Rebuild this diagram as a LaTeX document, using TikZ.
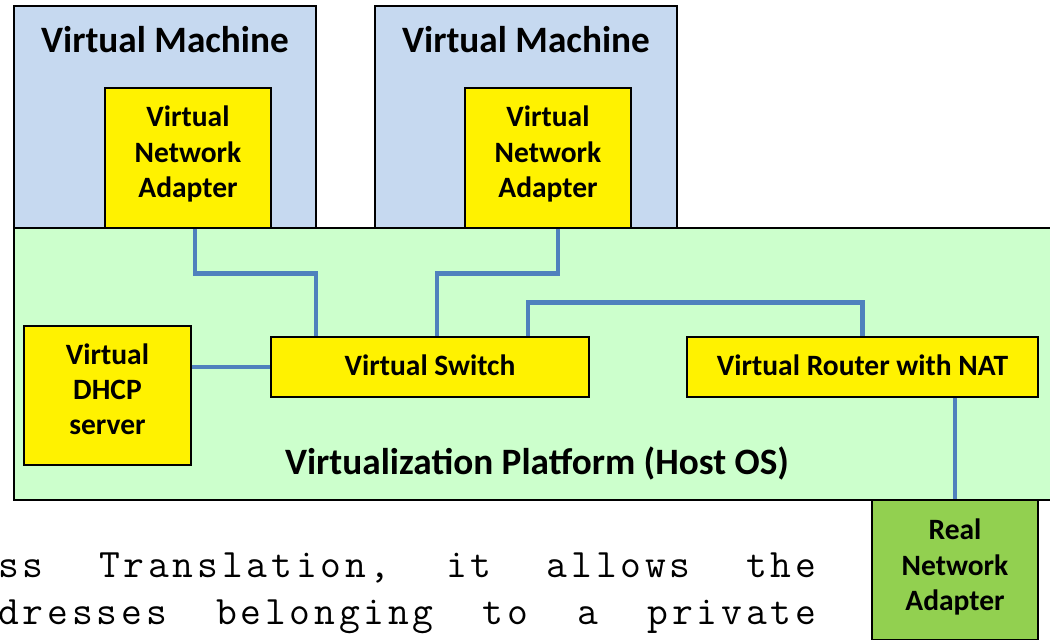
\documentclass[tikz,border=0pt]{standalone}
\usepackage{fontspec}
\setmainfont{Carlito}
\setmonofont{Latin Modern Mono}[LetterSpace=9.4]
\usetikzlibrary{positioning}

\definecolor{vmblue}{RGB}{198,217,240}
\definecolor{hostgreen}{RGB}{204,255,204}
\definecolor{realgreen}{RGB}{146,208,80}
\definecolor{wireblue}{RGB}{79,129,189}

\begin{document}
\begin{tikzpicture}[x=0.02cm, y=-0.02cm]
    \tikzset{
        vm_box/.style={draw=black, line width=1.1pt, fill=vmblue, inner sep=0pt,
            minimum width=6.04cm, minimum height=4.44cm},
        host_box/.style={draw=black, line width=1.1pt, fill=hostgreen, inner sep=0pt,
            minimum width=20.92cm, minimum height=5.44cm},
        dev_box/.style={draw=black, line width=1.1pt, fill=yellow, inner sep=0pt},
        nic_box/.style={dev_box, minimum width=3.32cm, minimum height=2.8cm},
        wide_box/.style={dev_box, minimum height=1.2cm},
        dev_text/.style={align=center, inner sep=0pt,
            font=\fontsize{16.8}{20}\selectfont\bfseries},
        big_label/.style={font=\fontsize{21.2}{25}\selectfont\bfseries, inner sep=0pt},
        wire/.style={line width=2.8pt, draw=wireblue},
        mono_line/.style={font=\fontsize{23}{28}\selectfont\ttfamily,
            anchor=base west, inner sep=0pt}
    }
    \clip (0,0) rectangle (1050,639);

    % virtual machines
    \node[vm_box] (vm1) at (165,117) {};
    \node[vm_box] (vm2) at (526,117) {};
    \node[big_label] (vm1_label) at (165,40) {Virtual Machine};
    \node[big_label] (vm2_label) at (526,40) {Virtual Machine};

    % host platform
    \node[host_box] (host) at (537,364) {};
    \node[big_label] (host_label) at (537,463) {Virtualization Platform (Host OS)};

    \node[nic_box] (nic1) at (188,158) {};
    \node[nic_box] (nic2) at (548,158) {};
    \node[dev_box, minimum width=3.34cm, minimum height=2.78cm] (dhcp) at (107.5,395.5) {};
    \node[wide_box, minimum width=6.36cm] (switch) at (430,367) {};
    \node[wide_box, minimum width=7.02cm] (router) at (862.5,367) {};
    \node[nic_box, fill=realgreen] (nic_real) at (955,570) {};

    \node[dev_text] (nic1_text) at (188,154) {Virtual\\Network\\Adapter};
    \node[dev_text] (nic2_text) at (548,154) {Virtual\\Network\\Adapter};
    \node[dev_text] (dhcp_text) at (107.5,389.5) {Virtual\\DHCP\\server};
    \node[dev_text] (switch_text) at (430,365) {Virtual Switch};
    \node[dev_text] (router_text) at (862.5,365) {Virtual Router with NAT};
    \node[dev_text] (nic_real_text) at (955,567) {Real\\Network\\Adapter};

    % links
    \draw[wire] ([xshift=0.14cm]nic1.south) -- ++(0,45) -| ([xshift=-2.28cm]switch.north);
    \draw[wire] ([xshift=0.2cm]nic2.south) -- ++(0,45) -| ([xshift=0.14cm]switch.north);
    \draw[wire] ([xshift=1.96cm]switch.north) -- ++(0,-34) -| (router.north);
    \draw[wire] (dhcp.east |- switch.west) -- (switch.west);
    \draw[wire] (router.south -| nic_real.north) -- (nic_real.north);

    % text behind the picture
    \node[mono_line] (text1) at (-2,577)
        {\hbox to 16.36cm{ss\hfill Translation,\hfill it\hfill allows\hfill the}};
    \node[mono_line] (text2) at (-2,624)
        {\hbox to 16.36cm{dresses\hfill belonging\hfill to\hfill a\hfill private}};
\end{tikzpicture}
\end{document}
